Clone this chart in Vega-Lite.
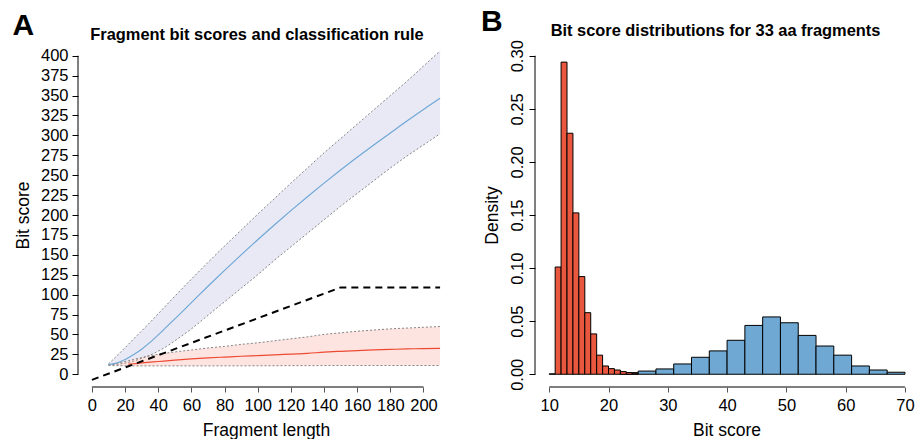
{
  "$schema": "https://vega.github.io/schema/vega-lite/v6.json",
  "background": "white",
  "padding": {"left": 12, "top": 7, "right": 0, "bottom": 0},
  "spacing": 27,
  "config": {
    "font": "Liberation Sans",
    "view": {"stroke": null},
    "axis": {
      "labelFont": "Liberation Sans", "titleFont": "Liberation Sans",
      "labelColor": "#000", "titleColor": "#000", "titleFontWeight": "normal",
      "tickColor": "#000", "grid": false, "domain": false,
      "labelFontSize": 16.5, "titleFontSize": 17.5, "tickSize": 6, "labelPadding": 4
    },
    "title": {"font": "Liberation Sans", "color": "#000"}
  },
  "datasets": {
    "blue": [
      {"x": 10, "lo": 12, "mid": 12, "hi": 13},
      {"x": 15, "lo": 12.5, "mid": 14, "hi": 23},
      {"x": 20, "lo": 14, "mid": 18.5, "hi": 33.5},
      {"x": 25, "lo": 16.5, "mid": 24.5, "hi": 44},
      {"x": 30, "lo": 20, "mid": 31.5, "hi": 54.5},
      {"x": 35, "lo": 24, "mid": 40, "hi": 65},
      {"x": 40, "lo": 29, "mid": 49.5, "hi": 76},
      {"x": 45, "lo": 35, "mid": 59.5, "hi": 87},
      {"x": 50, "lo": 42, "mid": 69.5, "hi": 98},
      {"x": 60, "lo": 57, "mid": 90, "hi": 119.5},
      {"x": 70, "lo": 74, "mid": 110.5, "hi": 140.5},
      {"x": 80, "lo": 91, "mid": 130.5, "hi": 161},
      {"x": 90, "lo": 108, "mid": 150, "hi": 181},
      {"x": 100, "lo": 125, "mid": 169, "hi": 201},
      {"x": 110, "lo": 143, "mid": 187.5, "hi": 220.5},
      {"x": 120, "lo": 160, "mid": 205.5, "hi": 240},
      {"x": 130, "lo": 177, "mid": 223, "hi": 259},
      {"x": 140, "lo": 194, "mid": 240, "hi": 278},
      {"x": 150, "lo": 211, "mid": 256.5, "hi": 296},
      {"x": 160, "lo": 227, "mid": 272.5, "hi": 314},
      {"x": 170, "lo": 243, "mid": 288, "hi": 332},
      {"x": 180, "lo": 259, "mid": 303, "hi": 350},
      {"x": 190, "lo": 274, "mid": 318, "hi": 368},
      {"x": 200, "lo": 288, "mid": 332.5, "hi": 387},
      {"x": 210, "lo": 302, "mid": 346.5, "hi": 406}
    ],
    "red": [
      {"x": 10, "lo": 11, "mid": null, "hi": 12},
      {"x": 15, "lo": 10.8, "mid": null, "hi": 14},
      {"x": 20, "lo": 10.6, "mid": null, "hi": 16},
      {"x": 22, "lo": 10.6, "mid": 12.5, "hi": 17},
      {"x": 25, "lo": 10.5, "mid": 13.2, "hi": 18.5},
      {"x": 30, "lo": 10.5, "mid": 14.2, "hi": 21},
      {"x": 40, "lo": 10.5, "mid": 16, "hi": 25},
      {"x": 50, "lo": 10.5, "mid": 17.8, "hi": 28},
      {"x": 60, "lo": 10.5, "mid": 19.3, "hi": 30.5},
      {"x": 70, "lo": 10.5, "mid": 20.6, "hi": 33},
      {"x": 80, "lo": 10.6, "mid": 21.6, "hi": 35},
      {"x": 90, "lo": 10.6, "mid": 22.6, "hi": 37.5},
      {"x": 100, "lo": 10.7, "mid": 23.4, "hi": 39.5},
      {"x": 110, "lo": 10.7, "mid": 24.3, "hi": 42},
      {"x": 120, "lo": 10.8, "mid": 25.3, "hi": 44.5},
      {"x": 130, "lo": 10.8, "mid": 26.3, "hi": 47},
      {"x": 140, "lo": 10.9, "mid": 27.7, "hi": 50},
      {"x": 150, "lo": 11, "mid": 28.8, "hi": 52},
      {"x": 160, "lo": 11, "mid": 29.8, "hi": 54},
      {"x": 170, "lo": 11, "mid": 30.6, "hi": 55.5},
      {"x": 180, "lo": 11, "mid": 31.2, "hi": 57},
      {"x": 190, "lo": 11, "mid": 31.8, "hi": 58},
      {"x": 200, "lo": 11, "mid": 32.3, "hi": 59},
      {"x": 210, "lo": 11, "mid": 32.6, "hi": 60}
    ],
    "rule": [
      {"x": 0, "y": -7},
      {"x": 150, "y": 109},
      {"x": 210, "y": 109}
    ],
    "bins": [
      {"group": "Blue", "lo": 22, "hi": 25, "density": 0.0015},
      {"group": "Blue", "lo": 25, "hi": 28, "density": 0.003},
      {"group": "Blue", "lo": 28, "hi": 31, "density": 0.005},
      {"group": "Blue", "lo": 31, "hi": 34, "density": 0.0097},
      {"group": "Blue", "lo": 34, "hi": 37, "density": 0.016},
      {"group": "Blue", "lo": 37, "hi": 40, "density": 0.022},
      {"group": "Blue", "lo": 40, "hi": 43, "density": 0.032},
      {"group": "Blue", "lo": 43, "hi": 46, "density": 0.046},
      {"group": "Blue", "lo": 46, "hi": 49, "density": 0.054},
      {"group": "Blue", "lo": 49, "hi": 52, "density": 0.0485},
      {"group": "Blue", "lo": 52, "hi": 55, "density": 0.0366},
      {"group": "Blue", "lo": 55, "hi": 58, "density": 0.0266},
      {"group": "Blue", "lo": 58, "hi": 61, "density": 0.018},
      {"group": "Blue", "lo": 61, "hi": 64, "density": 0.0078},
      {"group": "Blue", "lo": 64, "hi": 67, "density": 0.004},
      {"group": "Blue", "lo": 67, "hi": 70, "density": 0.0019},
      {"group": "Red", "lo": 10, "hi": 11, "density": 0.0004},
      {"group": "Red", "lo": 11, "hi": 12, "density": 0.101},
      {"group": "Red", "lo": 12, "hi": 13, "density": 0.294},
      {"group": "Red", "lo": 13, "hi": 14, "density": 0.227},
      {"group": "Red", "lo": 14, "hi": 15, "density": 0.152},
      {"group": "Red", "lo": 15, "hi": 16, "density": 0.092},
      {"group": "Red", "lo": 16, "hi": 17, "density": 0.058},
      {"group": "Red", "lo": 17, "hi": 18, "density": 0.038},
      {"group": "Red", "lo": 18, "hi": 19, "density": 0.018},
      {"group": "Red", "lo": 19, "hi": 20, "density": 0.0078},
      {"group": "Red", "lo": 20, "hi": 21, "density": 0.0053},
      {"group": "Red", "lo": 21, "hi": 22, "density": 0.004},
      {"group": "Red", "lo": 22, "hi": 23, "density": 0.0025},
      {"group": "Red", "lo": 23, "hi": 24, "density": 0.0015},
      {"group": "Red", "lo": 24, "hi": 25, "density": 0.001}
    ]
  },
  "hconcat": [
    {
      "title": {"text": "A", "anchor": "start", "frame": "bounds", "fontSize": 30, "fontWeight": "bold", "offset": 0, "dx": -2, "dy": 14},
      "vconcat": [
        {
          "width": 376,
          "height": 344,
          "title": {"text": "Fragment bit scores and classification rule", "fontSize": 16.4, "fontWeight": "bold", "anchor": "middle", "frame": "group", "offset": 0, "dx": -9},
          "encoding": {
            "x": {"type": "quantitative", "scale": {"domain": [-8.4, 218.4], "nice": false, "zero": false},
                  "axis": {"values": [0, 20, 40, 60, 80, 100, 120, 140, 160, 180, 200], "title": "Fragment length", "tickColor": "#555", "tickSize": 5, "labelPadding": 5, "titlePadding": 8}},
            "y": {"type": "quantitative", "scale": {"domain": [-16, 416], "nice": false, "zero": false},
                  "axis": {"values": [0, 25, 50, 75, 100, 125, 150, 175, 200, 225, 250, 275, 300, 325, 350, 375, 400], "title": "Bit score", "titlePadding": 8}}
          },
          "layer": [
            {"data": {"name": "blue"}, "mark": {"type": "area", "color": "#e9e9f5", "interpolate": "monotone"},
             "encoding": {"x": {"field": "x", "type": "quantitative"}, "y": {"field": "lo", "type": "quantitative"}, "y2": {"field": "hi"}}},
            {"data": {"name": "red"}, "mark": {"type": "area", "color": "#fde4e0", "interpolate": "monotone"},
             "encoding": {"x": {"field": "x", "type": "quantitative"}, "y": {"field": "lo", "type": "quantitative"}, "y2": {"field": "hi"}}},
            {"data": {"name": "blue"}, "mark": {"type": "line", "color": "#777", "strokeWidth": 0.9, "strokeDash": [2, 2], "interpolate": "monotone"},
             "encoding": {"x": {"field": "x", "type": "quantitative"}, "y": {"field": "hi", "type": "quantitative"}}},
            {"data": {"name": "blue"}, "mark": {"type": "line", "color": "#777", "strokeWidth": 0.9, "strokeDash": [2, 2], "interpolate": "monotone"},
             "encoding": {"x": {"field": "x", "type": "quantitative"}, "y": {"field": "lo", "type": "quantitative"}}},
            {"data": {"name": "red"}, "mark": {"type": "line", "color": "#777", "strokeWidth": 0.9, "strokeDash": [2, 2], "interpolate": "monotone"},
             "encoding": {"x": {"field": "x", "type": "quantitative"}, "y": {"field": "hi", "type": "quantitative"}}},
            {"data": {"name": "red"}, "mark": {"type": "line", "color": "#777", "strokeWidth": 0.9, "strokeDash": [2, 2], "interpolate": "monotone"},
             "encoding": {"x": {"field": "x", "type": "quantitative"}, "y": {"field": "lo", "type": "quantitative"}}},
            {"data": {"name": "blue"}, "mark": {"type": "line", "color": "#6fa8d6", "strokeWidth": 1.2, "interpolate": "monotone"},
             "encoding": {"x": {"field": "x", "type": "quantitative"}, "y": {"field": "mid", "type": "quantitative"}}},
            {"data": {"name": "red"}, "mark": {"type": "line", "color": "#ee4a33", "strokeWidth": 1.2, "interpolate": "monotone"},
             "encoding": {"x": {"field": "x", "type": "quantitative"}, "y": {"field": "mid", "type": "quantitative"}}},
            {"data": {"name": "rule"}, "mark": {"type": "line", "color": "#000", "strokeWidth": 2, "strokeDash": [7, 5]},
             "encoding": {"x": {"field": "x", "type": "quantitative"}, "y": {"field": "y", "type": "quantitative"}}},
            {"data": {"values": [{}]}, "mark": {"type": "rule", "color": "#555", "strokeWidth": 1.5},
             "encoding": {"x": {"datum": 0}, "x2": {"datum": 200}, "y": {"datum": -16}}},
            {"data": {"values": [{}]}, "mark": {"type": "rule", "color": "#000", "strokeWidth": 1},
             "encoding": {"y": {"datum": 0}, "y2": {"datum": 400}, "x": {"datum": -8.4}}}
          ]
        }
      ]
    },
    {
      "title": {"text": "B", "anchor": "start", "frame": "bounds", "fontSize": 30, "fontWeight": "bold", "offset": 0, "dx": -2, "dy": 14},
      "vconcat": [
        {
          "width": 383,
          "height": 344,
          "title": {"text": "Bit score distributions for 33 aa fragments", "fontSize": 16.4, "fontWeight": "bold", "anchor": "middle", "frame": "group", "offset": 0, "dx": -11},
          "encoding": {
            "x": {"type": "quantitative", "scale": {"domain": [7.6, 72.2], "nice": false, "zero": false},
                  "axis": {"values": [10, 20, 30, 40, 50, 60, 70], "title": "Bit score", "tickColor": "#555", "tickSize": 5, "labelPadding": 5, "titlePadding": 8}},
            "y": {"type": "quantitative", "scale": {"domain": [-0.012, 0.312], "nice": false, "zero": false},
                  "axis": {"values": [0, 0.05, 0.1, 0.15, 0.2, 0.25, 0.3], "format": ".2f", "title": "Density", "labelAngle": 270, "labelAlign": "center", "labelBaseline": "bottom", "labelPadding": 4, "titlePadding": 8}}
          },
          "layer": [
            {"data": {"name": "bins"}, "mark": {"type": "bar", "stroke": "#000", "strokeWidth": 1},
             "encoding": {
               "x": {"field": "lo", "type": "quantitative"}, "x2": {"field": "hi"},
               "y": {"field": "density", "type": "quantitative", "stack": null}, "y2": {"datum": 0},
               "color": {"field": "group", "type": "nominal", "scale": {"domain": ["Blue", "Red"], "range": ["#6fa9d3", "#e9573e"]}, "legend": null}
             }},
            {"data": {"values": [{}]}, "mark": {"type": "rule", "color": "#555", "strokeWidth": 1.5},
             "encoding": {"x": {"datum": 10}, "x2": {"datum": 70}, "y": {"datum": -0.012}}},
            {"data": {"values": [{}]}, "mark": {"type": "rule", "color": "#000", "strokeWidth": 1},
             "encoding": {"y": {"datum": 0}, "y2": {"datum": 0.3}, "x": {"datum": 7.6}}}
          ]
        }
      ]
    }
  ]
}
